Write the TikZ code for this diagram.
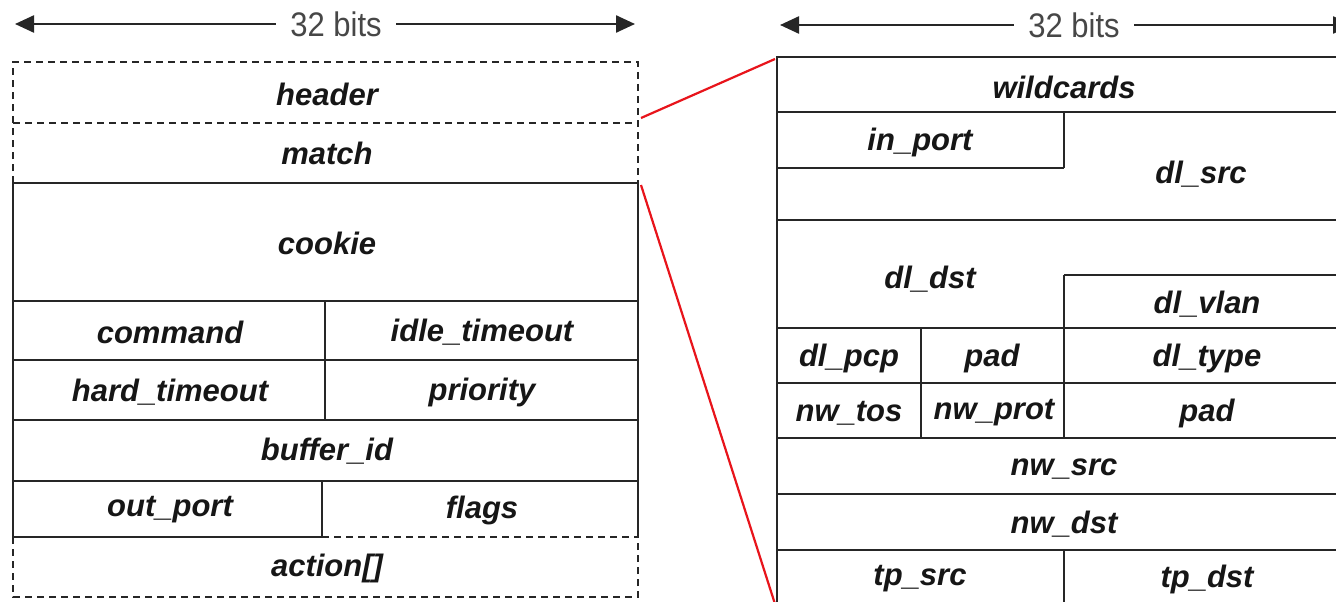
\documentclass[tikz,border=0pt]{standalone}
\usepackage{fontspec}
\setmainfont{Liberation Sans}
\usetikzlibrary{arrows.meta, positioning}
\definecolor{fieldline}{HTML}{262626}
\definecolor{fieldtext}{HTML}{161616}
\definecolor{zoomred}{HTML}{E8141B}

\begin{document}
\begin{tikzpicture}[
  x=1pt, y=-1pt,
  field/.style={font=\fontsize{31}{36}\selectfont\bfseries\itshape, text=fieldtext, inner sep=0pt},
  cell/.style={line width=1.8pt, fieldline},
  optcell/.style={line width=1.8pt, fieldline, dash pattern=on 7pt off 5pt},
  widthline/.style={line width=2.4pt, fieldline, {Triangle[length=19pt,width=17pt]}-{Triangle[length=19pt,width=17pt]}},
  widthlabel/.style={font=\fontsize{31}{36}\selectfont, text=fieldline!85, fill=white, inner xsep=14pt, inner ysep=2pt},
  zoomline/.style={line width=2.2pt, zoomred}
]
  \clip (0,0) rectangle (1336,602);
  \fill[white] (0,0) rectangle (1336,602);

  % ---- flow_mod message (left) ----
  \coordinate (lwl) at (15,24);
  \coordinate (lwr) at (635,24);
  \draw[widthline] (lwl) -- (lwr);
  \node[widthlabel] (lbits) at (336,24) {\scalebox{1}[1.1]{32 bits}};

  % optional parts (dashed)
  \draw[optcell] (13,183) -- (13,62) -- (638,62) -- (638,183);
  \draw[optcell] (13,123) -- (638,123);
  \draw[optcell] (13,537) -- (13,597) -- (638,597) -- (638,537);
  \draw[optcell] (322,537) -- (638,537);

  % fixed part
  \draw[cell] (13,537) -- (13,183) -- (638,183) -- (638,537);
  \draw[cell] (13,301) -- (638,301);
  \draw[cell] (13,360) -- (638,360);
  \draw[cell] (13,420) -- (638,420);
  \draw[cell] (13,481) -- (638,481);
  \draw[cell] (13,537) -- (322,537);
  \draw[cell] (325,301) -- (325,420);
  \draw[cell] (322,481) -- (322,537);

  \node[field] (header) at (327,94) {header};
  \node[field] (match) at (327,153) {match};
  \node[field] (cookie) at (327,243) {cookie};
  \node[field] (command) at (170,332) {command};
  \node[field] (idle) at (482,332) {idle\_timeout};
  \node[field] (hard) at (170,392) {hard\_timeout};
  \node[field] (priority) at (482,392) {priority};
  \node[field] (buffer) at (327,451) {buffer\_id};
  \node[field] (outport) at (170,510) {out\_port};
  \node[field] (flags) at (482,510) {flags};
  \node[field] (action) at (327,568) {action[]};

  % ---- ofp_match structure (right) ----
  \coordinate (rwl) at (780,25);
  \coordinate (rwr) at (1352,25);
  \draw[widthline] (rwl) -- (rwr);
  \node[widthlabel] (rbits) at (1074,25) {\scalebox{1}[1.1]{32 bits}};

  \draw[cell] (777,620) -- (777,57) -- (1351,57) -- (1351,620);
  \foreach \y in {112,220,328,383,438,494,550}
    \draw[cell] (777,\y) -- (1351,\y);
  \draw[cell] (777,168) -- (1064,168);
  \draw[cell] (1064,275) -- (1351,275);
  \draw[cell] (1064,112) -- (1064,168);
  \draw[cell] (1064,275) -- (1064,438);
  \draw[cell] (1064,550) -- (1064,620);
  \draw[cell] (921,328) -- (921,438);

  \node[field] (wildcards) at (1064,87) {wildcards};
  \node[field] (inport) at (920,142) {in\_port};
  \node[field] (dlsrc) at (1201,174) {dl\_src};
  \node[field] (dldst) at (930,279) {dl\_dst};
  \node[field] (dlvlan) at (1207,304) {dl\_vlan};
  \node[field] (dlpcp) at (849,358) {dl\_pcp};
  \node[field] (pada) at (992,358) {pad};
  \node[field] (dltype) at (1207,358) {dl\_type};
  \node[field] (nwtos) at (849,413) {nw\_tos};
  \node[field] (nwprot) at (994,413) {nw\_prot};
  \node[field] (padb) at (1207,413) {pad};
  \node[field] (nwsrc) at (1064,469) {nw\_src};
  \node[field] (nwdst) at (1064,524) {nw\_dst};
  \node[field] (tpsrc) at (920,579) {tp\_src};
  \node[field] (tpdst) at (1207,579) {tp\_dst};

  % zoom lines: match -> ofp_match
  \coordinate (mtop) at (641,118);
  \coordinate (mbot) at (641,185);
  \coordinate (otop) at (775,59);
  \coordinate (obot) at (775,604);
  \draw[zoomline] (mtop) -- (otop);
  \draw[zoomline] (mbot) -- (obot);
\end{tikzpicture}
\end{document}
